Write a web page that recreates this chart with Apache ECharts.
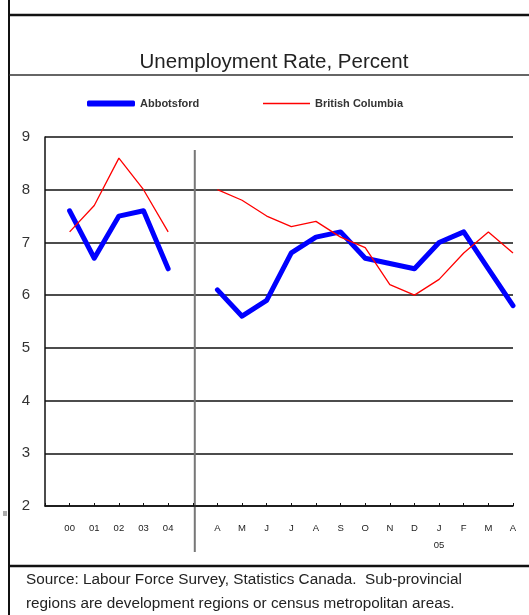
<!DOCTYPE html>
<html>
<head>
<meta charset="utf-8">
<script src="https://cdn.jsdelivr.net/npm/echarts@6/dist/echarts.min.js"></script>
<style>
  html, body { margin: 0; padding: 0; background: #fff; }
  #chart { width: 529px; height: 615px; }
</style>
</head>
<body>
<div id="chart"></div>
<script>
// annual averages 2000-04, then monthly Apr 2004 - Apr 2005
const categories = ["", "00", "01", "02", "03", "04", "", "A", "M", "J", "J", "A", "S", "O", "N", "D", "J\n05", "F", "M", "A"];
const abbotsford = [null, 7.6, 6.7, 7.5, 7.6, 6.5, null, 6.1, 5.6, 5.9, 6.8, 7.1, 7.2, 6.7, 6.6, 6.5, 7.0, 7.2, 6.5, 5.8];
const britishColumbia = [null, 7.2, 7.7, 8.6, 8.0, 7.2, null, 8.0, 7.8, 7.5, 7.3, 7.4, 7.1, 6.9, 6.2, 6.0, 6.3, 6.8, 7.2, 6.8];
const yTicks = [2, 3, 4, 5, 6, 7, 8, 9];

const font = "'Liberation Sans', Arial, sans-serif";
const chart = echarts.init(document.getElementById("chart"));

const option = {
    animation: false,
    backgroundColor: "#fff",
    title: {
        text: "Unemployment Rate, Percent",
        left: 269,
        textAlign: "center",
        top: 47,
        textStyle: { fontFamily: font, fontSize: 20.5, fontWeight: "normal", color: "#222" }
    },
    legend: [
        {
            data: ["Abbotsford"],
            left: 82,
            top: 93,
            icon: "roundRect",
            itemWidth: 48,
            itemHeight: 6,
            itemGap: 10,
            textStyle: { fontFamily: font, fontSize: 11, fontWeight: "bold", color: "#333" }
        },
        {
            data: ["British Columbia"],
            left: 258,
            top: 93,
            icon: "rect",
            itemWidth: 47,
            itemHeight: 1.5,
            textStyle: { fontFamily: font, fontSize: 11, fontWeight: "bold", color: "#333" }
        }
    ],
    grid: { left: 45, right: 16, top: 137, bottom: 109 },
    xAxis: {
        type: "category",
        data: categories,
        boundaryGap: false,
        axisLine: { lineStyle: { color: "#111", width: 1.5 } },
        axisTick: { inside: true, length: 3, interval: 0, lineStyle: { color: "#111" } },
        axisLabel: {
            interval: 0,
            margin: 14,
            fontFamily: font,
            fontSize: 9.5,
            color: "#222",
            lineHeight: 17
        }
    },
    yAxis: {
        type: "value",
        min: yTicks[0],
        max: yTicks[yTicks.length - 1],
        interval: 1,
        axisLine: { show: true, lineStyle: { color: "#111", width: 1.5 } },
        axisTick: { show: false },
        splitLine: { lineStyle: { color: "#111", width: 1.5 } },
        axisLabel: { margin: 15, fontFamily: font, fontSize: 15, color: "#333" }
    },
    series: [
        {
            name: "Abbotsford",
            type: "line",
            data: abbotsford,
            showSymbol: false,
            connectNulls: false,
            z: 3,
            lineStyle: { color: "#0000ff", width: 5, cap: "round", join: "round" },
            itemStyle: { color: "#0000ff" }
        },
        {
            name: "British Columbia",
            type: "line",
            data: britishColumbia,
            showSymbol: false,
            connectNulls: false,
            z: 4,
            lineStyle: { color: "#ff0000", width: 1.3 },
            itemStyle: { color: "#ff0000" }
        }
    ]
};
chart.setOption(option);

// separator between annual and monthly data, plus the page frame
const sepX = chart.convertToPixel({ xAxisIndex: 0 }, 6) + 2;
chart.setOption({
    graphic: [
        { type: "line", shape: { x1: sepX, y1: 150, x2: sepX, y2: 552 }, style: { stroke: "#777", lineWidth: 2 } },
        { type: "line", shape: { x1: 9, y1: 0, x2: 9, y2: 615 }, style: { stroke: "#111", lineWidth: 2 } },
        { type: "line", shape: { x1: 9, y1: 15, x2: 529, y2: 15 }, style: { stroke: "#111", lineWidth: 2.5 } },
        { type: "line", shape: { x1: 9, y1: 75, x2: 529, y2: 75 }, style: { stroke: "#333", lineWidth: 1.5 } },
        { type: "line", shape: { x1: 9, y1: 566, x2: 529, y2: 566 }, style: { stroke: "#111", lineWidth: 2.5 } },
        { type: "rect", shape: { x: 3, y: 511, width: 4, height: 5 }, style: { fill: "#aaa" } },
        {
            type: "text",
            left: 26,
            top: 568,
            style: {
                text: "Source: Labour Force Survey, Statistics Canada.  Sub-provincial\nregions are development regions or census metropolitan areas.",
                font: "15.3px " + font,
                fill: "#222",
                lineHeight: 24
            }
        }
    ]
});
</script>
</body>
</html>
